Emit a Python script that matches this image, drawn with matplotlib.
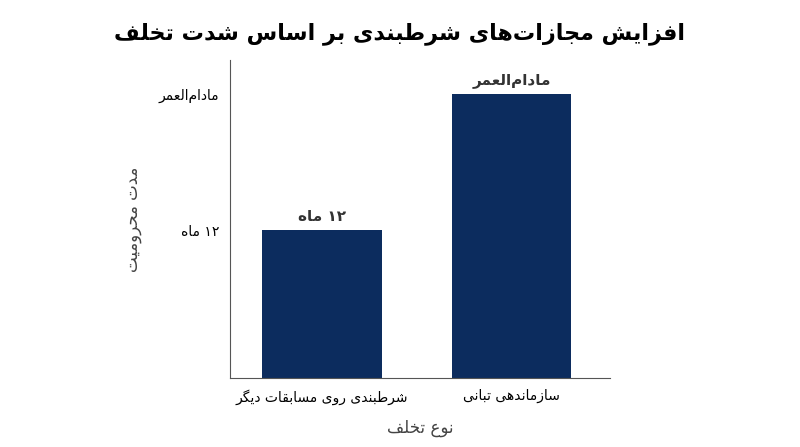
import matplotlib
matplotlib.use("Agg")
import matplotlib.pyplot as plt
import re

# Arabic/Persian letters -> (isolated, final, initial, medial); None = right-joining only
FORMS = {
    'ا': (0xFE8D, 0xFE8E, None, None), 'ب': (0xFE8F, 0xFE90, 0xFE91, 0xFE92),
    'پ': (0xFB56, 0xFB57, 0xFB58, 0xFB59), 'ت': (0xFE95, 0xFE96, 0xFE97, 0xFE98),
    'ث': (0xFE99, 0xFE9A, 0xFE9B, 0xFE9C), 'ج': (0xFE9D, 0xFE9E, 0xFE9F, 0xFEA0),
    'چ': (0xFB7A, 0xFB7B, 0xFB7C, 0xFB7D), 'ح': (0xFEA1, 0xFEA2, 0xFEA3, 0xFEA4),
    'خ': (0xFEA5, 0xFEA6, 0xFEA7, 0xFEA8), 'د': (0xFEA9, 0xFEAA, None, None),
    'ذ': (0xFEAB, 0xFEAC, None, None), 'ر': (0xFEAD, 0xFEAE, None, None),
    'ز': (0xFEAF, 0xFEB0, None, None), 'ژ': (0xFB8A, 0xFB8B, None, None),
    'س': (0xFEB1, 0xFEB2, 0xFEB3, 0xFEB4), 'ش': (0xFEB5, 0xFEB6, 0xFEB7, 0xFEB8),
    'ص': (0xFEB9, 0xFEBA, 0xFEBB, 0xFEBC), 'ض': (0xFEBD, 0xFEBE, 0xFEBF, 0xFEC0),
    'ط': (0xFEC1, 0xFEC2, 0xFEC3, 0xFEC4), 'ظ': (0xFEC5, 0xFEC6, 0xFEC7, 0xFEC8),
    'ع': (0xFEC9, 0xFECA, 0xFECB, 0xFECC), 'غ': (0xFECD, 0xFECE, 0xFECF, 0xFED0),
    'ف': (0xFED1, 0xFED2, 0xFED3, 0xFED4), 'ق': (0xFED5, 0xFED6, 0xFED7, 0xFED8),
    'ک': (0xFB8E, 0xFB8F, 0xFB90, 0xFB91), 'گ': (0xFB92, 0xFB93, 0xFB94, 0xFB95),
    'ل': (0xFEDD, 0xFEDE, 0xFEDF, 0xFEE0), 'م': (0xFEE1, 0xFEE2, 0xFEE3, 0xFEE4),
    'ن': (0xFEE5, 0xFEE6, 0xFEE7, 0xFEE8), 'و': (0xFEED, 0xFEEE, None, None),
    'ه': (0xFEE9, 0xFEEA, 0xFEEB, 0xFEEC), 'ی': (0xFBFC, 0xFBFD, 0xFBFE, 0xFBFF),
}


def fa(text):
    # shape letters, then reverse for right-to-left display
    out = []
    n = len(text)
    for i, ch in enumerate(text):
        if ch not in FORMS:
            if ch != '\u200c':
                out.append(ch)
            continue
        f = FORMS[ch]
        prev = text[i - 1] if i > 0 else ''
        nxt = text[i + 1] if i + 1 < n else ''
        join_prev = prev in FORMS and FORMS[prev][2] is not None
        join_next = nxt in FORMS and f[2] is not None
        if join_prev and join_next:
            code = f[3]
        elif join_prev:
            code = f[1]
        elif join_next:
            code = f[2]
        else:
            code = f[0]
        out.append(chr(code))
    s = ''.join(out)[::-1]
    # keep digit runs left-to-right
    return re.sub(r'[0-9۰-۹]+', lambda m: m.group(0)[::-1], s)


title = "افزایش مجازات‌های شرطبندی بر اساس شدت تخلف"
x_label = "نوع تخلف"
y_label = "مدت محرومیت"
categories = ["شرطبندی روی مسابقات دیگر", "سازماندهی تبانی"]
values = [12, 23]
bar_labels = ["۱۲ ماه", "مادام‌العمر"]
tick_values = [12, 23]
tick_labels = ["۱۲ ماه", "مادام‌العمر"]

plt.rcParams['font.family'] = ['DejaVu Sans']
fig = plt.figure(figsize=(8, 4.47), dpi=100)
ax = fig.add_axes([0.2875, 0.154, 0.475, 0.712])

pos = list(range(len(categories)))
ax.bar(pos, values, width=0.63, color="#0c2c5e")
for p, v, lab in zip(pos, values, bar_labels):
    ax.text(p, v + 0.5, fa(lab), ha="center", va="bottom", fontsize=11,
            fontweight="bold", color="#333333")

ax.set_xlim(-0.484, 1.52)
ax.set_ylim(0, 25.8)
ax.set_xticks(pos)
ax.set_xticklabels([fa(c) for c in categories], fontsize=10)
ax.set_yticks(tick_values)
ax.set_yticklabels([fa(t) for t in tick_labels], fontsize=10)
ax.tick_params(length=0, pad=8)
ax.spines["top"].set_visible(False)
ax.spines["right"].set_visible(False)
ax.spines["left"].set_color("#555555")
ax.spines["bottom"].set_color("#555555")
ax.set_xlabel(fa(x_label), fontsize=12, color="#444444", labelpad=10)
ax.set_ylabel(fa(y_label), fontsize=12, color="#444444", labelpad=12)

fig.suptitle(fa(title), fontsize=16, fontweight="bold", y=0.95)
fig.savefig("out.png", dpi=100)
